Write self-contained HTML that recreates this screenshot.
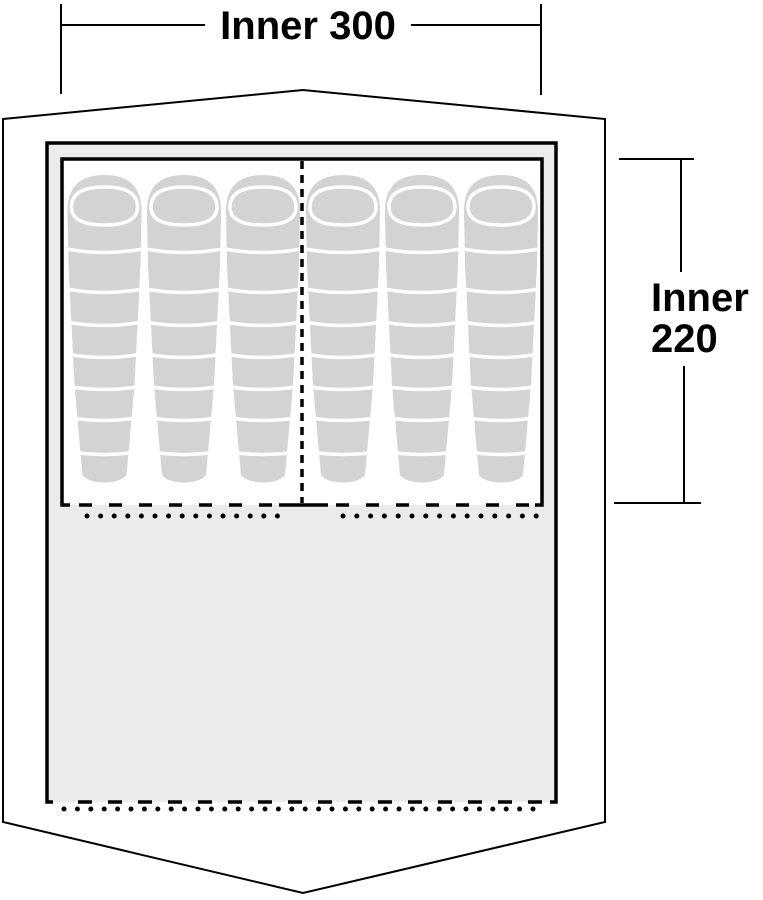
<!DOCTYPE html>
<html><head><style>html,body{margin:0;padding:0;background:#fff}svg{display:block}</style></head>
<body>
<svg width="763" height="900" viewBox="0 0 763 900" xmlns="http://www.w3.org/2000/svg">
<defs>
<g id="bag">
<path d="M-37,28 Q-38,-10 0,-10 Q38,-10 37,28 L36,80 L30,200 L22,290 C15,300 -15,300 -22,290 L-30,200 L-36,80 Z" fill="#d3d3d3"/>
<path d="M-33,22 Q-33,2 0,2 Q33,2 33,22 Q33,40 0,40 Q-33,40 -33,22 Z" fill="none" stroke="#fff" stroke-width="3.5"/>
<g stroke="#fff" stroke-width="3.5" fill="none">
<path d="M-38,64 Q0,71 38,64"/>
<path d="M-38,104 Q0,111 38,104"/>
<path d="M-38,137 Q0,144 38,137"/>
<path d="M-38,169 Q0,176 38,169"/>
<path d="M-38,201 Q0,208 38,201"/>
<path d="M-38,232 Q0,239 38,232"/>
<path d="M-38,266 Q0,273 38,266"/>
</g>
</g>
</defs>
<g stroke="#000" stroke-width="2" fill="none">
<line x1="61" y1="4" x2="61" y2="94"/>
<line x1="541" y1="4" x2="541" y2="95"/>
<line x1="61" y1="25" x2="205" y2="25"/>
<line x1="411" y1="25" x2="541" y2="25"/>
<line x1="619" y1="159" x2="694" y2="159"/>
<line x1="681" y1="159" x2="681" y2="272"/>
<line x1="684" y1="366" x2="684" y2="503"/>
<line x1="614" y1="503" x2="701" y2="503"/>
</g>
<text x="308" y="39" font-family="Liberation Sans, sans-serif" font-weight="bold" font-size="40" text-anchor="middle" fill="#000">Inner 300</text>
<text x="651" y="311" font-family="Liberation Sans, sans-serif" font-weight="bold" font-size="40" fill="#000">Inner</text>
<text x="651" y="352" font-family="Liberation Sans, sans-serif" font-weight="bold" font-size="40" fill="#000">220</text>
<polygon points="3,119 303,90 605,119 605,822 303,893 3,822" fill="#fff" stroke="#000" stroke-width="2"/>
<rect x="47" y="143" width="509" height="659" fill="#ebebeb"/>
<path d="M53,802 L47,802 L47,143 L556,143 L556,802 L550,802" fill="none" stroke="#000" stroke-width="3.5"/>
<line x1="78" y1="802" x2="548" y2="802" stroke="#000" stroke-width="3.5" stroke-dasharray="14,16"/>
<line x1="64" y1="809" x2="546" y2="809" stroke="#000" stroke-width="5" stroke-linecap="round" stroke-dasharray="0,13.4"/>
<rect x="62" y="159" width="480" height="346" fill="#fff"/>
<use href="#bag" x="104.5" y="185"/>
<use href="#bag" x="184" y="185"/>
<use href="#bag" x="263" y="185"/>
<use href="#bag" x="343" y="185"/>
<use href="#bag" x="422" y="185"/>
<use href="#bag" x="501" y="185"/>
<path d="M70,505 L62,505 L62,159 L542,159 L542,505 L535,505" fill="none" stroke="#000" stroke-width="3.5"/>
<line x1="79" y1="505" x2="280" y2="505" stroke="#000" stroke-width="3.5" stroke-dasharray="13,17"/>
<line x1="279" y1="505" x2="328" y2="505" stroke="#000" stroke-width="3.5"/>
<line x1="336" y1="505" x2="530" y2="505" stroke="#000" stroke-width="3.5" stroke-dasharray="13,17"/>
<line x1="302" y1="161" x2="302" y2="503" stroke="#000" stroke-width="3.5" stroke-dasharray="8,6"/>
<line x1="87" y1="516" x2="278" y2="516" stroke="#000" stroke-width="5" stroke-linecap="round" stroke-dasharray="0,13.6"/>
<line x1="343" y1="516" x2="537" y2="516" stroke="#000" stroke-width="5" stroke-linecap="round" stroke-dasharray="0,13.8"/>
</svg>
</body></html>
